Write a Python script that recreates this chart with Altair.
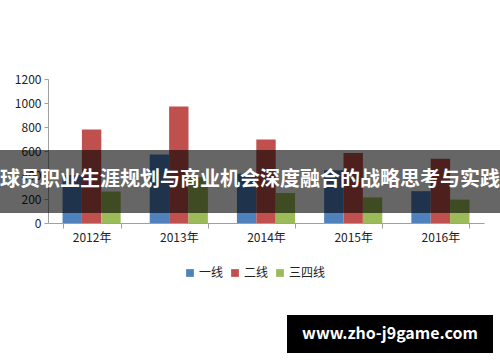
import altair as alt
import pandas as pd

years = ["2012年", "2013年", "2014年", "2015年", "2016年"]
series = ["一线", "二线", "三四线"]
tier1 = [400, 570, 410, 440, 265]
tier2 = [780, 970, 695, 583, 536]
tier34 = [262, 382, 250, 213, 195]
colors = ["#4F81BD", "#C0504D", "#9BBB59"]
y_ticks = [0, 200, 400, 600, 800, 1000, 1200]
banner_text = "球员职业生涯规划与商业机会深度融合的战略思考与实践"
watermark_text = "www.zho-j9game.com"

rows = []
for i, yr in enumerate(years):
    for name, vals in zip(series, [tier1, tier2, tier34]):
        rows.append({"year": yr, "series": name, "value": vals[i]})
df = pd.DataFrame(rows)

W, H = 436, 144
FONT = "Noto Sans CJK SC"

bars = alt.Chart(df).mark_bar().encode(
    x=alt.X("year:N", sort=years, title=None,
            scale=alt.Scale(paddingInner=1/3, paddingOuter=1/6),
            axis=alt.Axis(labelAngle=0, tickBand="extent", tickSize=5,
                          labelPadding=4, domainColor="#A0A0A0", tickColor="#A0A0A0",
                          labelFont=FONT, labelFontSize=12, labelColor="#222222")),
    xOffset=alt.XOffset("series:N", sort=series, scale=alt.Scale(paddingInner=0, paddingOuter=0)),
    y=alt.Y("value:Q", title=None,
            scale=alt.Scale(domain=[0, 1200]),
            axis=alt.Axis(values=y_ticks, format="d", grid=False, tickSize=4, labelPadding=3,
                          domainColor="#A0A0A0", tickColor="#A0A0A0",
                          labelFont=FONT, labelFontSize=12, labelColor="#222222")),
    color=alt.Color("series:N", sort=series,
                    scale=alt.Scale(domain=series, range=colors),
                    legend=alt.Legend(title=None, orient="none", direction="horizontal",
                                      legendX=136, legendY=188, symbolType="square",
                                      symbolSize=60, symbolStrokeWidth=0,
                                      labelFont=FONT, labelFontSize=12, labelColor="#222222",
                                      columnPadding=5, labelOffset=3)),
)

banner_df = pd.DataFrame({"t": [banner_text]})
banner = alt.Chart(banner_df).mark_rect(color="black", opacity=0.6).encode(
    x=alt.value(-48), x2=alt.value(452), y=alt.value(71), y2=alt.value(134)
)
banner_label = alt.Chart(banner_df).mark_text(
    color="white", font=FONT, fontSize=20, fontWeight="bold", align="center", baseline="middle"
).encode(x=alt.value(202), y=alt.value(101), text="t:N")

wm_df = pd.DataFrame({"t": [watermark_text]})
wm_box = alt.Chart(wm_df).mark_rect(color="black").encode(
    x=alt.value(239), x2=alt.value(445), y=alt.value(236), y2=alt.value(274)
)
wm_label = alt.Chart(wm_df).mark_text(
    color="white", font=FONT, fontSize=16, fontWeight="bold", align="center", baseline="middle"
).encode(x=alt.value(342), y=alt.value(255), text="t:N")

chart = alt.layer(bars, banner, banner_label, wm_box, wm_label).properties(
    width=W, height=H,
    autosize=alt.AutoSizeParams(type="none"),
    padding={"left": 48, "top": 79, "right": 16, "bottom": 139},
    background="white",
).configure_view(stroke=None)

chart.save("out.html", embed_options={"renderer": "svg", "actions": False})
